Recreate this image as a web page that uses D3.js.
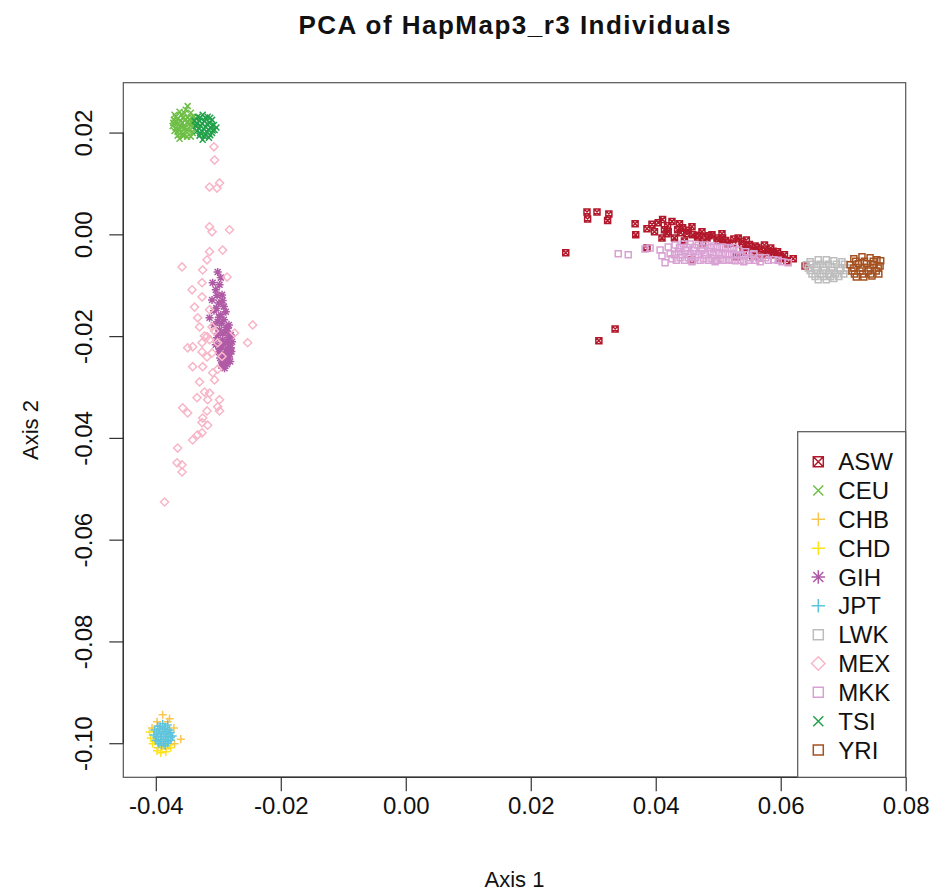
<!DOCTYPE html>
<html lang="en">
<head>
<meta charset="utf-8">
<title>PCA of HapMap3_r3 Individuals</title>
<script src="https://d3js.org/d3.v7.min.js"></script>
<style>
    body {
        margin: 0;
        background: #fff;
    }

    svg {
        font-family: "Liberation Sans", Arial, Helvetica, sans-serif;
    }

    .pt {
        fill: none;
        stroke-width: 1.5;
    }
</style>
</head>
<body>
<div id="chart"></div>

<script>
    // PC coordinates per population
    var ASW = [[0.0256,-0.0036],[0.0290,0.0044],[0.0291,0.0030],[0.0306,0.0044],[0.0325,0.0040],[0.0323,0.0027],
        [0.0367,0.0021],[0.0368,-0.0001],[0.0386,0.0011],[0.0386,-0.0027],
        [0.0404,0.0023],[0.0411,0.0029],[0.0426,0.0025],[0.0414,0.0009],[0.0418,0.0001],[0.0430,-0.0007],[0.0410,-0.0007],
        [0.0435,0.0009],[0.0443,0.0013],[0.0458,0.0015],[0.0450,0.0001],[0.0459,-0.0001],[0.0467,-0.0005],
        [0.0490,-0.0001],[0.0498,-0.0007],[0.0507,-0.0007],[0.0482,-0.0007],
        [0.0532,-0.0007],[0.0523,-0.0017],[0.0539,-0.0021],[0.0546,-0.0027],[0.0530,-0.0044],[0.0458,-0.0050],
        [0.0335,-0.0186],[0.0309,-0.0209],
        [0.0559,-0.0023],[0.0566,-0.0031],[0.0579,-0.0034],[0.0590,-0.0040],[0.0602,-0.0046],[0.0610,-0.0052],
        [0.0554,-0.0034],[0.0574,-0.0021],[0.0584,-0.0027],[0.0595,-0.0034],[0.0566,-0.0046],[0.0606,-0.0040],
        [0.0639,-0.0062],[0.0475,-0.0017],[0.0515,-0.0019],[0.0446,-0.0013],[0.0398,0.0005],[0.0419,0.0017],
        [0.0438,0.0021],[0.0394,0.0020],[0.0474,0.0005],[0.0506,0.0001],[0.0545,-0.0011],[0.0620,-0.0048],
        [0.0420,0.0005],[0.0440,0.0003],[0.0452,0.0008],[0.0470,-0.0002],[0.0485,-0.0003],[0.0500,-0.0012],
        [0.0512,-0.0012],[0.0525,-0.0009],[0.0538,-0.0014],[0.0550,-0.0020],[0.0562,-0.0026],[0.0575,-0.0029],
        [0.0588,-0.0033],[0.0598,-0.0041],[0.0578,-0.0040],[0.0555,-0.0042],[0.0540,-0.0035],[0.0598,-0.0048]];

    var CEU = [[-0.0370,0.0235],[-0.0362,0.0241],[-0.0352,0.0245],[-0.0349,0.0252],[-0.0344,0.0239],[-0.0339,0.0231],
        [-0.0371,0.0225],[-0.0365,0.0227],[-0.0357,0.0229],[-0.0349,0.0229],[-0.0341,0.0223],[-0.0336,0.0217],
        [-0.0373,0.0213],[-0.0366,0.0217],[-0.0358,0.0219],[-0.0350,0.0219],[-0.0344,0.0213],[-0.0338,0.0207],
        [-0.0370,0.0203],[-0.0362,0.0207],[-0.0354,0.0209],[-0.0347,0.0203],[-0.0341,0.0199],
        [-0.0365,0.0194],[-0.0357,0.0197],[-0.0350,0.0192],[-0.0362,0.0188],[-0.0344,0.0192],
        [-0.0360,0.0223],[-0.0355,0.0213],[-0.0365,0.0201],[-0.0346,0.0225],[-0.0368,0.0231],
        [-0.0367,0.0221],[-0.0359,0.0235],[-0.0352,0.0226],[-0.0346,0.0218],[-0.0340,0.0217],[-0.0368,0.0209],
        [-0.0360,0.0213],[-0.0352,0.0203],[-0.0359,0.0200],[-0.0354,0.0238],[-0.0372,0.0219],[-0.0347,0.0209],
        [-0.0342,0.0230],[-0.0356,0.0193]];

    var CHB = [[-0.0389,-0.0944],[-0.0378,-0.0952],[-0.0360,-0.0992],[-0.0406,-0.0970],[-0.0398,-0.0958],
        [-0.0381,-0.0958],[-0.0371,-0.0970],[-0.0370,-0.1001],[-0.0397,-0.1009],[-0.0384,-0.1011]];

    var CHD = [[-0.0408,-0.0990],[-0.0405,-0.1001],[-0.0398,-0.1015],[-0.0392,-0.1019],[-0.0384,-0.1017],
        [-0.0376,-0.1009],[-0.0410,-0.0978],[-0.0390,-0.1007],[-0.0402,-0.0996],[-0.0378,-0.1003]];

    var GIH = [[-0.0301,-0.0074],[-0.0309,-0.0095],[-0.0298,-0.0099],[-0.0304,-0.0109],[-0.0294,-0.0119],
        [-0.0310,-0.0129],[-0.0299,-0.0135],[-0.0291,-0.0142],[-0.0307,-0.0150],[-0.0296,-0.0158],[-0.0288,-0.0152],
        [-0.0301,-0.0172],[-0.0291,-0.0168],[-0.0283,-0.0178],[-0.0298,-0.0188],[-0.0288,-0.0192],[-0.0280,-0.0198],
        [-0.0302,-0.0203],[-0.0293,-0.0207],[-0.0285,-0.0211],[-0.0296,-0.0221],[-0.0288,-0.0227],[-0.0280,-0.0223],
        [-0.0299,-0.0231],[-0.0291,-0.0239],[-0.0283,-0.0243],[-0.0294,-0.0251],[-0.0286,-0.0255],[-0.0290,-0.0263],
        [-0.0307,-0.0178],[-0.0278,-0.0211],[-0.0304,-0.0217],[-0.0314,-0.0164],[-0.0296,-0.0085],[-0.0302,-0.0120],
        [-0.0285,-0.0185],[-0.0293,-0.0195],[-0.0282,-0.0235],[-0.0297,-0.0243],
        [-0.0295,-0.0175],[-0.0287,-0.0183],[-0.0300,-0.0195],[-0.0284,-0.0203],[-0.0292,-0.0215],[-0.0283,-0.0217],
        [-0.0298,-0.0225],[-0.0285,-0.0232],[-0.0291,-0.0247],[-0.0281,-0.0250],[-0.0295,-0.0258],[-0.0299,-0.0163],
        [-0.0293,-0.0130],[-0.0303,-0.0145],[-0.0287,-0.0240],[-0.0279,-0.0230]];

    var JPT = [[-0.0397,-0.0966],[-0.0389,-0.0962],[-0.0381,-0.0964],
        [-0.0402,-0.0974],[-0.0394,-0.0972],[-0.0386,-0.0972],[-0.0378,-0.0974],
        [-0.0403,-0.0984],[-0.0395,-0.0982],[-0.0387,-0.0982],[-0.0379,-0.0982],[-0.0373,-0.0986],
        [-0.0400,-0.0994],[-0.0392,-0.0992],[-0.0384,-0.0992],[-0.0376,-0.0994],
        [-0.0395,-0.1001],[-0.0387,-0.1001],[-0.0381,-0.1000],
        [-0.0393,-0.0967],[-0.0385,-0.0968],[-0.0398,-0.0978],[-0.0390,-0.0977],[-0.0382,-0.0978],[-0.0376,-0.0979],
        [-0.0399,-0.0988],[-0.0391,-0.0987],[-0.0383,-0.0987],[-0.0376,-0.0989],[-0.0396,-0.0997],[-0.0388,-0.0996],
        [-0.0380,-0.0996],[-0.0391,-0.1004],[-0.0385,-0.1005]];

    var LWK = [[0.0647,-0.0054],[0.0660,-0.0050],[0.0673,-0.0050],[0.0685,-0.0052],[0.0698,-0.0054],
        [0.0644,-0.0066],[0.0657,-0.0064],[0.0669,-0.0064],[0.0682,-0.0064],[0.0695,-0.0066],[0.0706,-0.0066],
        [0.0650,-0.0078],[0.0663,-0.0078],[0.0676,-0.0078],[0.0688,-0.0078],[0.0701,-0.0078],
        [0.0660,-0.0089],[0.0673,-0.0089],[0.0685,-0.0087],
        [0.0650,-0.0059],[0.0663,-0.0059],[0.0676,-0.0059],[0.0689,-0.0059],[0.0702,-0.0059],[0.0641,-0.0060],
        [0.0647,-0.0071],[0.0657,-0.0071],[0.0669,-0.0071],[0.0682,-0.0071],[0.0695,-0.0071],[0.0704,-0.0071],
        [0.0655,-0.0083],[0.0668,-0.0083],[0.0680,-0.0083],[0.0693,-0.0083]];

    var MEX = [[-0.0314,0.0093],[-0.0298,0.0101],[-0.0302,0.0091],[-0.0307,0.0172],[-0.0306,0.0146],
        [-0.0314,0.0015],[-0.0310,0.0005],[-0.0282,0.0009],
        [-0.0314,-0.0034],[-0.0293,-0.0031],[-0.0318,-0.0050],
        [-0.0358,-0.0064],[-0.0325,-0.0070],[-0.0286,-0.0084],
        [-0.0342,-0.0109],[-0.0326,-0.0095],[-0.0326,-0.0123],
        [-0.0338,-0.0143],[-0.0333,-0.0164],[-0.0314,-0.0148],
        [-0.0330,-0.0182],[-0.0245,-0.0178],[-0.0274,-0.0194],
        [-0.0310,-0.0182],[-0.0318,-0.0201],[-0.0253,-0.0213],
        [-0.0349,-0.0223],[-0.0341,-0.0221],[-0.0326,-0.0213],[-0.0314,-0.0207],[-0.0301,-0.0213],
        [-0.0326,-0.0231],[-0.0318,-0.0241],[-0.0310,-0.0233],
        [-0.0341,-0.0260],[-0.0325,-0.0260],
        [-0.0309,-0.0272],[-0.0306,-0.0286],
        [-0.0322,-0.0310],[-0.0314,-0.0312],[-0.0334,-0.0321],[-0.0317,-0.0325],[-0.0298,-0.0325],
        [-0.0357,-0.0341],[-0.0349,-0.0351],[-0.0318,-0.0347],[-0.0301,-0.0339],[-0.0298,-0.0347],
        [-0.0325,-0.0361],[-0.0326,-0.0370],
        [-0.0333,-0.0394],[-0.0341,-0.0404],[-0.0326,-0.0390],
        [-0.0365,-0.0420],
        [-0.0366,-0.0449],[-0.0358,-0.0453],[-0.0358,-0.0467],
        [-0.0386,-0.0526],
        [-0.0306,-0.0190],[-0.0322,-0.0200],[-0.0294,-0.0240],[-0.0301,-0.0265],[-0.0330,-0.0290],[-0.0317,-0.0375]];

    var MKK = [[0.0340,-0.0038],[0.0356,-0.0040],[0.0383,-0.0029],[0.0391,-0.0027],[0.0415,-0.0056],
        [0.0407,-0.0031],[0.0420,-0.0025],[0.0431,-0.0021],[0.0444,-0.0019],[0.0455,-0.0019],[0.0468,-0.0021],
        [0.0480,-0.0021],[0.0493,-0.0023],[0.0506,-0.0025],[0.0519,-0.0027],[0.0532,-0.0031],[0.0544,-0.0034],[0.0557,-0.0038],
        [0.0410,-0.0042],[0.0423,-0.0038],[0.0436,-0.0034],[0.0448,-0.0032],[0.0461,-0.0032],[0.0474,-0.0032],
        [0.0487,-0.0034],[0.0500,-0.0036],[0.0512,-0.0038],[0.0525,-0.0040],[0.0538,-0.0042],[0.0551,-0.0046],
        [0.0564,-0.0046],[0.0576,-0.0046],
        [0.0426,-0.0048],[0.0439,-0.0046],[0.0452,-0.0046],[0.0464,-0.0046],[0.0477,-0.0048],[0.0490,-0.0048],
        [0.0503,-0.0048],[0.0516,-0.0050],[0.0528,-0.0052],[0.0541,-0.0054],[0.0567,-0.0054],[0.0589,-0.0050],
        [0.0602,-0.0054],[0.0612,-0.0056],[0.0458,-0.0054],[0.0495,-0.0054],
        [0.0438,-0.0026],[0.0450,-0.0026],[0.0462,-0.0026],[0.0474,-0.0026],[0.0487,-0.0026],[0.0499,-0.0026],
        [0.0512,-0.0026],[0.0525,-0.0026],
        [0.0430,-0.0040],[0.0442,-0.0040],[0.0455,-0.0040],[0.0468,-0.0040],[0.0480,-0.0040],[0.0493,-0.0040],
        [0.0506,-0.0040],[0.0518,-0.0040],[0.0531,-0.0040],[0.0544,-0.0040],[0.0557,-0.0040],
        [0.0433,-0.0051],[0.0446,-0.0051],[0.0458,-0.0051],[0.0471,-0.0051],[0.0484,-0.0051],[0.0497,-0.0051],
        [0.0509,-0.0051],[0.0522,-0.0051],[0.0535,-0.0051],[0.0548,-0.0051],[0.0560,-0.0051],[0.0580,-0.0051],
        [0.0596,-0.0051]];

    var TSI = [[-0.0333,0.0231],[-0.0325,0.0235],[-0.0317,0.0231],[-0.0310,0.0225],
        [-0.0338,0.0223],[-0.0330,0.0223],[-0.0322,0.0223],[-0.0314,0.0219],[-0.0307,0.0215],
        [-0.0336,0.0213],[-0.0328,0.0213],[-0.0320,0.0211],[-0.0312,0.0209],[-0.0306,0.0205],
        [-0.0334,0.0203],[-0.0326,0.0203],[-0.0318,0.0201],[-0.0310,0.0199],
        [-0.0330,0.0194],[-0.0322,0.0192],[-0.0315,0.0190],[-0.0325,0.0186],
        [-0.0329,0.0229],[-0.0321,0.0229],[-0.0313,0.0229],[-0.0334,0.0218],[-0.0326,0.0218],[-0.0318,0.0217],
        [-0.0310,0.0214],[-0.0331,0.0208],[-0.0323,0.0207],[-0.0316,0.0206],[-0.0309,0.0204],[-0.0329,0.0199],
        [-0.0321,0.0197],[-0.0313,0.0195],[-0.0303,0.0210]];

    var YRI = [[0.0717,-0.0048],[0.0730,-0.0044],[0.0743,-0.0046],[0.0754,-0.0050],
        [0.0711,-0.0060],[0.0724,-0.0058],[0.0737,-0.0058],[0.0749,-0.0060],[0.0759,-0.0062],
        [0.0714,-0.0072],[0.0727,-0.0072],[0.0740,-0.0072],[0.0753,-0.0072],
        [0.0721,-0.0084],[0.0733,-0.0084],[0.0746,-0.0082],
        [0.0720,-0.0053],[0.0734,-0.0053],[0.0748,-0.0053],[0.0760,-0.0052],
        [0.0717,-0.0066],[0.0730,-0.0066],[0.0743,-0.0066],[0.0756,-0.0066],
        [0.0718,-0.0078],[0.0731,-0.0078],[0.0744,-0.0078],[0.0757,-0.0078]];

    var popNames = ["ASW", "CEU", "CHB", "CHD", "GIH", "JPT", "LWK", "MEX", "MKK", "TSI", "YRI"];
    var popData = [ASW, CEU, CHB, CHD, GIH, JPT, LWK, MEX, MKK, TSI, YRI];
    var xTicks = [-0.04, -0.02, 0.00, 0.02, 0.04, 0.06, 0.08];
    var yTicks = [0.02, 0.00, -0.02, -0.04, -0.06, -0.08, -0.10];

    // look of each population (R pch style)
    var popColor = {
        ASW: "#b2182b", CEU: "#6dbe45", CHB: "#f9c74f", CHD: "#ffe31a", GIH: "#b05aa6", JPT: "#5ec4dc",
        LWK: "#bdbdbd", MEX: "#f7b6c8", MKK: "#d9a1d3", TSI: "#22a04b", YRI: "#a5501f"
    };
    var popShape = {
        ASW: "squareX", CEU: "cross", CHB: "plus", CHD: "plus", GIH: "star", JPT: "plus",
        LWK: "square", MEX: "diamond", MKK: "square", TSI: "cross", YRI: "square"
    };

    function shapePath(shape, s) {
        var r = s * 1.35;
        var sq = `M${-s},${-s}h${2 * s}v${2 * s}h${-2 * s}Z`;
        var x = `M${-s},${-s}L${s},${s}M${s},${-s}L${-s},${s}`;
        var p = `M${-r},0H${r}M0,${-r}V${r}`;
        if (shape === "square") return sq;
        if (shape === "squareX") return sq + x;
        if (shape === "cross") return x;
        if (shape === "plus") return p;
        if (shape === "star") return p + x;
        return `M0,${-r}L${r},0L0,${r}L${-r},0Z`;
    }

    var w = 932;
    var h = 895;

    var svg = d3.select("#chart")
        .append("svg")
        .attr("width", w)
        .attr("height", h);

    var xScale = d3.scaleLinear()
        .domain([-0.0452, 0.08])
        .range([123.3, 905.7]);

    var yScale = d3.scaleLinear()
        .domain([0.0298, -0.1067])
        .range([82.7, 777.3]);

    var fmt = v => (Math.abs(v) < 1e-9 ? 0 : v).toFixed(2);

    // points
    popNames.forEach((name, i) => {
        svg.append("g")
            .selectAll("path")
            .data(popData[i])
            .enter()
            .append("path")
            .attr("class", "pt")
            .attr("stroke", popColor[name])
            .attr("transform", d => `translate(${xScale(d[0])},${yScale(d[1])})`)
            .attr("d", shapePath(popShape[name], 3));
    });

    // plot box
    svg.append("rect")
        .attr("x", xScale.range()[0])
        .attr("y", yScale.range()[0])
        .attr("width", xScale.range()[1] - xScale.range()[0])
        .attr("height", yScale.range()[1] - yScale.range()[0])
        .attr("fill", "none")
        .attr("stroke", "#555")
        .attr("stroke-width", 1.2);

    // axes
    var xAxis = svg.append("g")
        .attr("transform", `translate(0, ${yScale.range()[1]})`)
        .call(d3.axisBottom(xScale).tickValues(xTicks).tickFormat(fmt).tickSize(14).tickPadding(6));

    var yAxis = svg.append("g")
        .attr("transform", `translate(${xScale.range()[0]}, 0)`)
        .call(d3.axisLeft(yScale).tickValues(yTicks).tickFormat(fmt).tickSize(14));

    [xAxis, yAxis].forEach(ax => {
        ax.select(".domain").remove();
        ax.selectAll(".tick line").attr("stroke", "#333").attr("stroke-width", 1.2);
        ax.selectAll("text").attr("fill", "#111").style("font-size", "24px");
    });

    yAxis.selectAll(".tick text")
        .attr("transform", "rotate(-90)")
        .attr("text-anchor", "middle")
        .attr("x", 0)
        .attr("y", -31.5)
        .attr("dy", null);

    svg.append("line")
        .attr("x1", xScale(xTicks[0])).attr("x2", xScale(xTicks[xTicks.length - 1]))
        .attr("y1", yScale.range()[1]).attr("y2", yScale.range()[1])
        .attr("stroke", "#333").attr("stroke-width", 1.4);

    svg.append("line")
        .attr("x1", xScale.range()[0]).attr("x2", xScale.range()[0])
        .attr("y1", yScale(yTicks[0])).attr("y2", yScale(yTicks[yTicks.length - 1]))
        .attr("stroke", "#333").attr("stroke-width", 1.4);

    // titles
    svg.append("text")
        .attr("x", 514.5)
        .attr("y", 34)
        .attr("text-anchor", "middle")
        .attr("textLength", 432)
        .attr("lengthAdjust", "spacing")
        .style("font-weight", "bold")
        .style("font-size", "26px")
        .attr("fill", "#111")
        .text("PCA of HapMap3_r3 Individuals");

    svg.append("text")
        .attr("x", 514.5)
        .attr("y", 887)
        .attr("text-anchor", "middle")
        .style("font-size", "22px")
        .attr("fill", "#111")
        .text("Axis 1");

    svg.append("text")
        .attr("transform", "translate(38, 430) rotate(-90)")
        .attr("text-anchor", "middle")
        .style("font-size", "22px")
        .attr("fill", "#111")
        .text("Axis 2");

    // legend
    var legend = svg.append("g");

    legend.append("rect")
        .attr("x", 797.7)
        .attr("y", 431.7)
        .attr("width", xScale.range()[1] - 797.7)
        .attr("height", yScale.range()[1] - 431.7)
        .attr("fill", "#fff")
        .attr("stroke", "#555")
        .attr("stroke-width", 1.2);

    popNames.forEach((name, i) => {
        var row = legend.append("g")
            .attr("transform", `translate(818.3, ${461.7 + i * 28.83})`);

        row.append("path")
            .attr("class", "pt")
            .attr("stroke", popColor[name])
            .attr("stroke-width", 1.4)
            .attr("d", shapePath(popShape[name], 5));

        row.append("text")
            .attr("x", 20)
            .attr("dy", "0.36em")
            .style("font-size", "24px")
            .attr("fill", "#111")
            .text(name);
    });
</script>
</body>
</html>
